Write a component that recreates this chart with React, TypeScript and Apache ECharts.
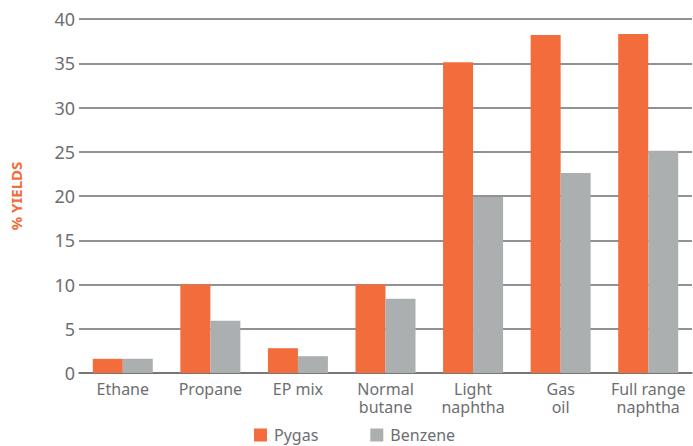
import React, { useEffect, useRef } from "react";
import * as echarts from "echarts";

const categories = ["Ethane", "Propane", "EP mix", "Normal\nbutane", "Light\nnaphtha", "Gas\noil", "Full range\nnaphtha"];
const pygas = [1.6, 10, 2.8, 10, 35.1, 38.2, 38.3];
const benzene = [1.6, 5.9, 1.9, 8.4, 19.9, 22.6, 25.1];
const seriesNames = ["Pygas", "Benzene"];
const yTicks = { min: 0, max: 40, interval: 5 };

const FONT = "'Noto Sans', 'Open Sans', sans-serif";
const GRAY_TEXT = "#6d6e71";
const ORANGE = "#f26c3c";
const GRAY_BAR = "#acafaf";

export default function App() {
  const ref = useRef<HTMLDivElement>(null);
  useEffect(() => {
    if (!ref.current) return;
    const chart = echarts.init(ref.current, undefined, { renderer: "svg" });
    chart.setOption({
      animation: false,
      textStyle: { fontFamily: FONT },
      grid: { left: 74, right: 1, top: 19, bottom: 73 },
      legend: {
        left: 254,
        top: 427,
        padding: 0,
        itemWidth: 13,
        itemHeight: 13,
        itemGap: 52,
        icon: "rect",
        textStyle: { fontSize: 16, color: GRAY_TEXT, fontFamily: FONT, padding: [0, 0, 0, 2] },
        data: seriesNames,
      },
      xAxis: {
        type: "category",
        data: categories,
        axisTick: { show: false },
        axisLine: { lineStyle: { color: GRAY_TEXT, width: 1.5 } },
        axisLabel: { fontSize: 16, color: GRAY_TEXT, margin: 7, lineHeight: 18, interval: 0 },
      },
      yAxis: {
        type: "value",
        min: yTicks.min,
        max: yTicks.max,
        interval: yTicks.interval,
        name: "% YIELDS",
        nameLocation: "middle",
        nameGap: 56,
        nameTextStyle: { color: ORANGE, fontWeight: "bold", fontSize: 15, fontFamily: FONT },
        axisLabel: { fontSize: 18, color: GRAY_TEXT, margin: 4 },
        axisLine: { show: false },
        axisTick: { show: false },
        splitLine: { lineStyle: { color: GRAY_TEXT, width: 1.5 } },
      },
      series: [
        {
          name: seriesNames[0],
          type: "bar",
          data: pygas,
          barWidth: 30,
          barGap: "0%",
          itemStyle: { color: ORANGE },
        },
        {
          name: seriesNames[1],
          type: "bar",
          data: benzene,
          barWidth: 30,
          barGap: "0%",
          itemStyle: { color: GRAY_BAR },
        },
      ],
    });
    return () => chart.dispose();
  }, []);
  return (
    <div
      ref={ref}
      style={{ position: "fixed", left: 0, top: 0, width: 693, height: 446, background: "#fff" }}
    />
  );
}
